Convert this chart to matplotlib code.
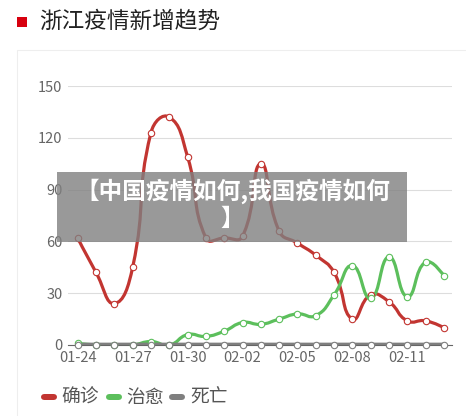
import numpy as np
import matplotlib
matplotlib.use('Agg')
import matplotlib.pyplot as plt
from matplotlib.path import Path
from matplotlib.patches import PathPatch, Rectangle, FancyBboxPatch

plt.rcParams['font.family'] = ['Noto Sans CJK SC', 'DejaVu Sans']

# ── data ──────────────────────────────────────────────────────────────────────
dates = ['01-24', '01-25', '01-26', '01-27', '01-28', '01-29', '01-30',
         '01-31', '02-01', '02-02', '02-03', '02-04', '02-05', '02-06',
         '02-07', '02-08', '02-09', '02-10', '02-11', '02-12', '02-13']
confirmed = [62, 42, 24, 45, 123, 132, 109, 62, 62, 63, 105, 66, 59, 52,
             42, 15, 29, 25, 14, 14, 10]
cured = [1, 0, 0, 0, 2, 0, 6, 5, 8, 13, 12, 15, 18, 17, 29, 46, 27, 51,
         28, 48, 40]
dead = [0] * 21
series_names = ['确诊', '治愈', '死亡']
series_colors = ['#c23531', '#5cbf5c', '#7f7f7f']

# ── figure ────────────────────────────────────────────────────────────────────
W, H = 466, 416
fig = plt.figure(figsize=(W / 100, H / 100), dpi=100)
fig.patch.set_facecolor('white')

# panel border + title
fig.patches.append(Rectangle((17 / W, -0.1), 1.2, 1 - 50 / H + 0.1, transform=fig.transFigure,
                             fill=False, edgecolor='#eeeeee', lw=0.8))
fig.patches.append(Rectangle((17 / W, 1 - 27 / H), 10 / W, 10 / H, transform=fig.transFigure,
                             facecolor='#d7000f', edgecolor='none'))
fig.text(39 / W, 1 - 21 / H, '浙江疫情新增趋势', fontsize=16.3, color='#222222',
         ha='left', va='center')

ax = fig.add_axes([68 / W, 1 - 345 / H, (452 - 68) / W, (345 - 86) / H])
x = np.arange(len(dates))
SX, SY = 18.3, 1.727  # px per unit, for smoothing in screen space


def smooth_path(xs, ys, smooth=0.5):
    px = np.asarray(xs, float) * SX
    py = np.asarray(ys, float) * SY
    n = len(px)
    cps = []
    for i in range(n):
        if i == 0 or i == n - 1:
            cps.append(((px[i], py[i]), (px[i], py[i])))
            continue
        vx = (px[i + 1] - px[i - 1]) * smooth
        vy = (py[i + 1] - py[i - 1]) * smooth
        d0 = np.hypot(px[i] - px[i - 1], py[i] - py[i - 1])
        d1 = np.hypot(px[i + 1] - px[i], py[i + 1] - py[i])
        s = d0 + d1
        d0, d1 = d0 / s, d1 / s
        cps.append(((px[i] - vx * d0, py[i] - vy * d0), (px[i] + vx * d1, py[i] + vy * d1)))
    verts = [(px[0] / SX, py[0] / SY)]
    codes = [Path.MOVETO]
    for i in range(n - 1):
        c1 = cps[i][1]
        c2 = cps[i + 1][0]
        verts += [(c1[0] / SX, c1[1] / SY), (c2[0] / SX, c2[1] / SY),
                  (px[i + 1] / SX, py[i + 1] / SY)]
        codes += [Path.CURVE4] * 3
    return Path(verts, codes)


for ys, col, lw in zip([confirmed, cured, dead], series_colors, [2.3, 2.3, 3.4]):
    ax.add_patch(PathPatch(smooth_path(x, ys), fill=False, edgecolor=col, lw=lw,
                           capstyle='round', joinstyle='round', zorder=3))
    ax.plot(x, ys, 'o', ms=4.6, mfc='white', mec=col, mew=0.8, zorder=4, clip_on=False)

ax.set_xlim(-0.53, 20.44)
ax.set_ylim(0, 150)
ax.set_yticks([0, 30, 60, 90, 120, 150])
ax.set_xticks(x[::3])
ax.set_xticklabels(dates[::3])
ax.grid(axis='y', color='#dddddd', lw=0.8)
ax.set_axisbelow(True)
for s in ['top', 'right', 'left']:
    ax.spines[s].set_visible(False)
ax.spines['bottom'].set_color('#666666')
ax.tick_params(axis='y', length=0, pad=4, labelsize=10.5, labelcolor='#666666')
ax.tick_params(axis='x', length=0, pad=4, labelsize=10.5, labelcolor='#666666')

# legend
lx = [41, 106, 169]
tx = [61, 126, 190]
for name, col, a, b in zip(series_names, series_colors, lx, tx):
    fig.patches.append(FancyBboxPatch((a / W, 1 - 400 / H), 16 / W, 6 / H,
                                      boxstyle='round,pad=0,rounding_size=0.008',
                                      transform=fig.transFigure, facecolor=col,
                                      edgecolor='none'))
    fig.text(b / W, 1 - 397 / H, name, fontsize=13.5, color='#555555', ha='left', va='center')

# watermark overlay
fig.patches.append(Rectangle((57 / W, 1 - 242 / H), (407 - 57) / W, (242 - 172) / H,
                             transform=fig.transFigure, facecolor='#808080',
                             edgecolor='none', alpha=0.8, zorder=10))
fig.text(233 / W, 1 - 191 / H, '【中国疫情如何,我国疫情如何', fontsize=17, color='white',
         fontweight='heavy', ha='center', va='center', zorder=11)
fig.text(232 / W, 1 - 219 / H, '】', fontsize=17, color='white',
         fontweight='heavy', ha='center', va='center', zorder=11)

fig.savefig('out.png', dpi=100)
